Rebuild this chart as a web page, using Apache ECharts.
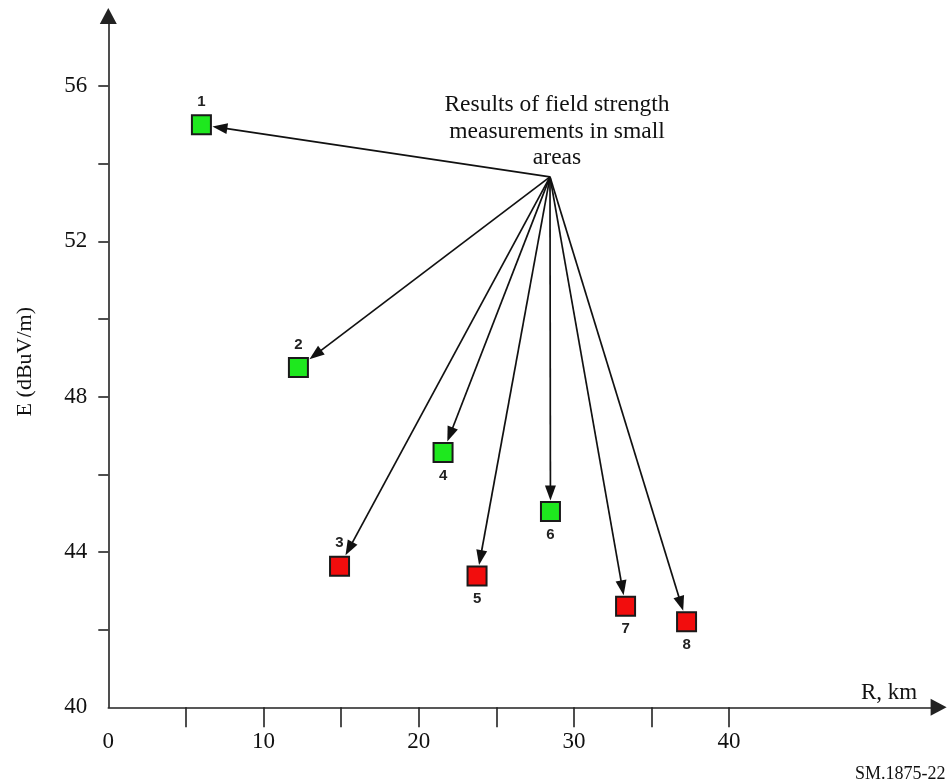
<!DOCTYPE html>
<html>
<head>
<meta charset="utf-8">
<title>SM.1875-22</title>
<script src="https://cdn.jsdelivr.net/npm/echarts@6/dist/echarts.min.js"></script>
<style>
  html, body { margin: 0; padding: 0; background: #fff; }
  #chart { width: 947px; height: 784px; }
</style>
</head>
<body>
<div id="chart"></div>
<script>
// measurement points (R in km, E in dBuV/m)
var pointNames = ['1', '2', '3', '4', '5', '6', '7', '8'];
var distanceKm = [6.0, 12.25, 14.9, 21.57, 23.76, 28.49, 33.33, 37.26];
var fieldDb = [55.0, 48.75, 43.63, 46.56, 43.38, 45.04, 42.6, 42.2];
var pointKind = ['good', 'good', 'low', 'good', 'low', 'good', 'low', 'low'];

// where all the arrows start (under the note text)
var arrowFrom = [28.46, 53.66];

// axis ticks and labels
var xTicks = [5, 10, 15, 20, 25, 30, 35, 40];
var xLabels = [0, 10, 20, 30, 40];
var yTicks = [42, 44, 46, 48, 50, 52, 54, 56];
var yLabels = [40, 44, 48, 52, 56];

var noteText = 'Results of field strength\nmeasurements in small\nareas';

// styling
var serif = '"Liberation Serif", "Times New Roman", serif';
var kindColor = { good: '#1ee81e', low: '#f20d0d' };
var labelSide = ['top', 'top', 'top', 'bottom', 'bottom', 'bottom', 'bottom', 'bottom'];
var half = 11; // half size of a square incl. border, px

var chart = echarts.init(document.getElementById('chart'));

var scatterData = pointNames.map(function (n, i) {
  return {
    name: n,
    value: [distanceKm[i], fieldDb[i]],
    itemStyle: { color: kindColor[pointKind[i]] },
    label: { position: labelSide[i] }
  };
});

var arrowData = distanceKm.map(function (x, i) { return [x, fieldDb[i]]; });

function renderArrow(params, api) {
  var o = api.coord(arrowFrom);
  var t = api.coord([api.value(0), api.value(1)]);
  var dx = t[0] - o[0], dy = t[1] - o[1];
  var len = Math.sqrt(dx * dx + dy * dy);
  // stop at the edge of the square
  var k = half / Math.max(Math.abs(dx), Math.abs(dy));
  var tip = [t[0] - dx * k, t[1] - dy * k];
  var ux = dx / len, uy = dy / len;
  var headLen = 15, headW = 5.5;
  var base = [tip[0] - ux * headLen, tip[1] - uy * headLen];
  return {
    type: 'group',
    children: [{
      type: 'line',
      shape: { x1: o[0], y1: o[1], x2: base[0] + ux * 2, y2: base[1] + uy * 2 },
      style: { stroke: '#111', lineWidth: 1.7 }
    }, {
      type: 'polygon',
      shape: {
        points: [tip,
          [base[0] - uy * headW, base[1] + ux * headW],
          [base[0] + uy * headW, base[1] - ux * headW]]
      },
      style: { fill: '#111' }
    }]
  };
}

var option = {
  backgroundColor: '#fff',
  animation: false,
  grid: { left: 108.3, right: 8.4, top: 16.1, bottom: 76.7 },
  xAxis: {
    type: 'value',
    min: 0,
    max: 53.5,
    axisLine: {
      show: true,
      symbol: ['none', 'triangle'],
      symbolSize: [17, 16],
      lineStyle: { color: '#222', width: 1.6 }
    },
    axisTick: {
      show: true,
      length: 20,
      customValues: xTicks,
      lineStyle: { color: '#222', width: 1.6 }
    },
    axisLabel: {
      customValues: xLabels,
      margin: 23,
      fontFamily: serif,
      fontSize: 23,
      color: '#111'
    },
    splitLine: { show: false }
  },
  yAxis: {
    type: 'value',
    min: 40,
    max: 57.8,
    name: 'E (dBuV/m)',
    nameLocation: 'middle',
    nameRotate: 90,
    nameGap: 72,
    nameTextStyle: { fontFamily: serif, fontSize: 22, color: '#111' },
    axisLine: {
      show: true,
      symbol: ['none', 'triangle'],
      symbolSize: [17, 16],
      lineStyle: { color: '#222', width: 1.6 }
    },
    axisTick: {
      show: true,
      length: 10,
      customValues: yTicks,
      lineStyle: { color: '#222', width: 1.6 }
    },
    axisLabel: {
      customValues: yLabels,
      margin: 21,
      fontFamily: serif,
      fontSize: 23,
      color: '#111'
    },
    splitLine: { show: false }
  },
  graphic: [{
    type: 'text',
    style: {
      x: 557, y: 92,
      text: noteText,
      textAlign: 'center',
      textVerticalAlign: 'top',
      font: '23.5px ' + serif,
      lineHeight: 26.5,
      fill: '#111'
    }
  }, {
    type: 'text',
    style: {
      x: 889, y: 693,
      text: 'R, km',
      textAlign: 'center',
      textVerticalAlign: 'middle',
      font: '23px ' + serif,
      fill: '#111'
    }
  }, {
    type: 'text',
    style: {
      x: 855, y: 774,
      text: 'SM.1875-22',
      textAlign: 'left',
      textVerticalAlign: 'middle',
      font: '18px ' + serif,
      fill: '#111'
    }
  }],
  series: [{
    type: 'custom',
    renderItem: renderArrow,
    data: arrowData,
    silent: true,
    z: 2
  }, {
    type: 'scatter',
    symbol: 'rect',
    symbolSize: 19,
    data: scatterData,
    z: 3,
    itemStyle: { borderColor: '#1a1a1a', borderWidth: 2, opacity: 1 },
    label: {
      show: true,
      formatter: '{b}',
      distance: 5,
      fontFamily: '"Liberation Sans", Arial, sans-serif',
      fontWeight: 'bold',
      fontSize: 15,
      color: '#222'
    }
  }]
};

chart.setOption(option);
</script>
</body>
</html>
